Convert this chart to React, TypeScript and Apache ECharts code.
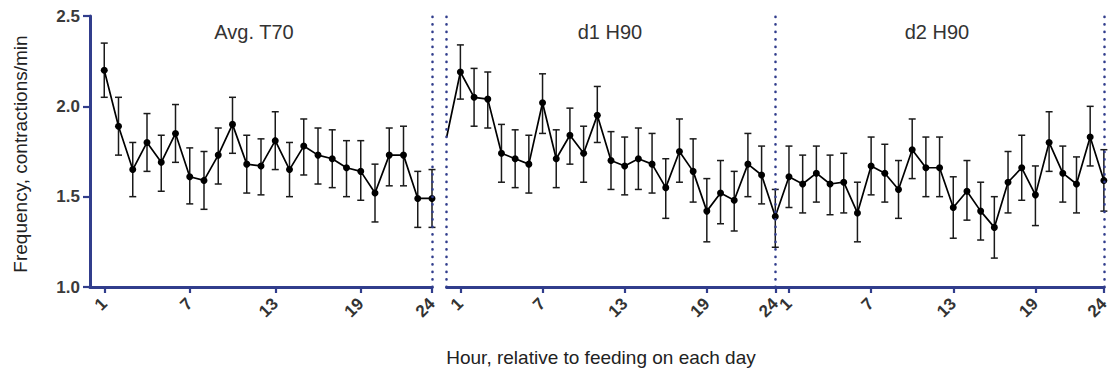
import React, { useEffect, useRef } from "react";
import * as echarts from "echarts";

// Hours per day and tick labels
const hours = [1, 2, 3, 4, 5, 6, 7, 8, 9, 10, 11, 12, 13, 14, 15, 16, 17, 18, 19, 20, 21, 22, 23, 24];
const tickHours = [1, 7, 13, 19, 24];
const panelTitles = ["Avg. T70", "d1 H90", "d2 H90"];
const yTicks = [1.0, 1.5, 2.0, 2.5];

// Avg. T70
const t70Mean = [2.20, 1.89, 1.65, 1.80, 1.69, 1.85, 1.61, 1.59, 1.73, 1.90, 1.68, 1.67, 1.81, 1.65, 1.78, 1.73, 1.71, 1.66, 1.64, 1.52, 1.73, 1.73, 1.49, 1.49];
const t70Low = [2.05, 1.73, 1.50, 1.64, 1.53, 1.69, 1.46, 1.43, 1.57, 1.74, 1.52, 1.51, 1.65, 1.50, 1.62, 1.57, 1.55, 1.50, 1.48, 1.36, 1.56, 1.56, 1.33, 1.33];
const t70High = [2.35, 2.05, 1.80, 1.96, 1.84, 2.01, 1.77, 1.75, 1.88, 2.05, 1.84, 1.82, 1.97, 1.80, 1.93, 1.88, 1.87, 1.81, 1.81, 1.68, 1.88, 1.89, 1.64, 1.65];

// d1 H90
const d1Lead = 1.83; // value entering the panel at hour 0
const d1Mean = [2.19, 2.05, 2.04, 1.74, 1.71, 1.68, 2.02, 1.71, 1.84, 1.74, 1.95, 1.70, 1.67, 1.71, 1.68, 1.55, 1.75, 1.64, 1.42, 1.52, 1.48, 1.68, 1.62, 1.39];
const d1Low = [2.04, 1.89, 1.88, 1.58, 1.55, 1.52, 1.85, 1.55, 1.68, 1.58, 1.80, 1.54, 1.51, 1.54, 1.52, 1.38, 1.58, 1.47, 1.25, 1.35, 1.31, 1.50, 1.46, 1.22];
const d1High = [2.34, 2.21, 2.19, 1.90, 1.87, 1.84, 2.18, 1.87, 1.99, 1.89, 2.11, 1.86, 1.83, 1.88, 1.85, 1.71, 1.93, 1.82, 1.60, 1.70, 1.64, 1.85, 1.78, 1.54];

// d2 H90
const d2Mean = [1.61, 1.57, 1.63, 1.57, 1.58, 1.41, 1.67, 1.63, 1.54, 1.76, 1.66, 1.66, 1.44, 1.53, 1.42, 1.33, 1.58, 1.66, 1.51, 1.80, 1.63, 1.57, 1.83, 1.59];
const d2Low = [1.44, 1.41, 1.47, 1.40, 1.41, 1.25, 1.51, 1.47, 1.38, 1.60, 1.50, 1.50, 1.27, 1.37, 1.26, 1.16, 1.41, 1.48, 1.34, 1.64, 1.47, 1.41, 1.67, 1.42];
const d2High = [1.78, 1.73, 1.78, 1.73, 1.74, 1.58, 1.83, 1.79, 1.70, 1.93, 1.83, 1.83, 1.61, 1.70, 1.58, 1.50, 1.75, 1.84, 1.67, 1.97, 1.78, 1.72, 2.00, 1.76];

const NAVY = "#313d8c";
const FONT = "Arial, 'Liberation Sans', sans-serif";

export default function App() {
  const ref = useRef<HTMLDivElement>(null);

  useEffect(() => {
    if (!ref.current) return;
    const chart = echarts.init(ref.current, null, { renderer: "svg" });

    const t70Line = hours.map((h, i) => [h, t70Mean[i]]);
    const t70Err = hours.map((h, i) => [h, t70Low[i], t70High[i]]);
    const h90Line: any[] = [{ value: [0, d1Lead], symbol: "none" }];
    hours.forEach((h, i) => h90Line.push([h, d1Mean[i]]));
    hours.forEach((h, i) => h90Line.push([h + 24, d2Mean[i]]));
    const h90Err = [
      ...hours.map((h, i) => [h, d1Low[i], d1High[i]]),
      ...hours.map((h, i) => [h + 24, d2Low[i], d2High[i]]),
    ];

    const errRender = (params: any, api: any) => {
      const x = api.value(0);
      const lo = api.coord([x, api.value(1)]);
      const hi = api.coord([x, api.value(2)]);
      const cw = 3.5;
      const st = { stroke: "#1a1a1a", lineWidth: 1.5 };
      return {
        type: "group",
        children: [
          { type: "line", shape: { x1: lo[0], y1: lo[1], x2: hi[0], y2: hi[1] }, style: st },
          { type: "line", shape: { x1: lo[0] - cw, y1: lo[1], x2: lo[0] + cw, y2: lo[1] }, style: st },
          { type: "line", shape: { x1: hi[0] - cw, y1: hi[1], x2: hi[0] + cw, y2: hi[1] }, style: st },
        ],
      };
    };

    const dotted = { color: NAVY, width: 2.6, type: [0.1, 7.4] as any, cap: "round" };
    const capStyle = { color: NAVY, width: 2.5, type: "solid" };

    const xAxisCommon = (max: number, values: number[]) => ({
      type: "value",
      min: 0,
      max,
      axisLine: { show: true, lineStyle: { color: NAVY, width: 3 } },
      axisTick: { show: true, customValues: values, length: 6, lineStyle: { color: NAVY, width: 2.2 } },
      axisLabel: {
        customValues: values,
        rotate: 45,
        margin: 14,
        fontSize: 17,
        fontWeight: "bold",
        color: "#333",
        fontFamily: FONT,
        formatter: (v: number) => String(v > 24 ? v - 24 : v),
      },
      splitLine: { show: false },
    });

    const yAxisCommon = (show: boolean) => ({
      type: "value",
      min: 1,
      max: 2.5,
      interval: 0.5,
      show,
      axisLine: { show: true, lineStyle: { color: NAVY, width: 3 } },
      axisTick: { show: true, length: 7, inside: false, lineStyle: { color: NAVY, width: 2.2 } },
      axisLabel: {
        margin: 10,
        fontSize: 17,
        fontWeight: "bold",
        color: "#3a3a3a",
        fontFamily: FONT,
        formatter: (v: number) => (yTicks.indexOf(v) >= 0 ? v.toFixed(1) : ""),
      },
      splitLine: { show: false },
    });

    const titleStyle = (text: string) => ({ text, fontSize: 20, fill: "#333", fontFamily: FONT, align: "center", verticalAlign: "top" });

    const option: any = {
      animation: false,
      backgroundColor: "#ffffff",
      grid: [
        { left: 90, top: 16, width: 342, height: 271 },
        { left: 446.7, top: 16, width: 662.6, height: 271 },
      ],
      xAxis: [
        { ...xAxisCommon(24, tickHours), gridIndex: 0 },
        { ...xAxisCommon(48, [...tickHours, ...tickHours.map((h) => h + 24)]), gridIndex: 1 },
      ],
      yAxis: [
        { ...yAxisCommon(true), gridIndex: 0 },
        { ...yAxisCommon(false), gridIndex: 1 },
      ],
      graphic: [
        { type: "text", x: 254, y: 22, style: titleStyle(panelTitles[0]) },
        { type: "text", x: 610, y: 22, style: titleStyle(panelTitles[1]) },
        { type: "text", x: 937, y: 22, style: titleStyle(panelTitles[2]) },
        {
          type: "text",
          x: 601,
          y: 357,
          style: { text: "Hour, relative to feeding on each day", fontSize: 19, fill: "#222", fontFamily: FONT, align: "center", verticalAlign: "middle" },
        },
        {
          type: "text",
          x: 20,
          y: 154,
          rotation: Math.PI / 2,
          style: { text: "Frequency, contractions/min", fontSize: 19, fill: "#222", fontFamily: FONT, align: "center", verticalAlign: "middle" },
        },
      ],
      series: [
        {
          type: "custom",
          xAxisIndex: 0,
          yAxisIndex: 0,
          renderItem: errRender,
          encode: { x: 0, y: [1, 2] },
          data: t70Err,
          z: 2,
        },
        {
          type: "line",
          xAxisIndex: 0,
          yAxisIndex: 0,
          data: t70Line,
          symbol: "circle",
          symbolSize: 7,
          itemStyle: { color: "#000" },
          lineStyle: { color: "#000", width: 1.7 },
          z: 3,
          markLine: {
            silent: true,
            symbol: ["none", "none"],
            label: { show: false },
            data: [
              { xAxis: 24, lineStyle: dotted },
              [
                { coord: [24, 0.955], lineStyle: capStyle },
                { coord: [24, 1.04] },
              ],
            ],
          },
        },
        {
          type: "custom",
          xAxisIndex: 1,
          yAxisIndex: 1,
          renderItem: errRender,
          encode: { x: 0, y: [1, 2] },
          data: h90Err,
          z: 2,
        },
        {
          type: "line",
          xAxisIndex: 1,
          yAxisIndex: 1,
          data: h90Line,
          symbol: "circle",
          symbolSize: 7,
          itemStyle: { color: "#000" },
          lineStyle: { color: "#000", width: 1.7 },
          z: 3,
          markLine: {
            silent: true,
            symbol: ["none", "none"],
            label: { show: false },
            data: [
              { xAxis: 0, lineStyle: dotted },
              { xAxis: 24, lineStyle: dotted },
              { xAxis: 48, lineStyle: dotted },
              [
                { coord: [0, 0.955], lineStyle: capStyle },
                { coord: [0, 1.04] },
              ],
            ],
          },
        },
      ],
    };

    chart.setOption(option);
    return () => chart.dispose();
  }, []);

  return (
    <div
      ref={ref}
      style={{ position: "fixed", left: 0, top: 0, width: 1112, height: 372, background: "#fff" }}
    />
  );
}
